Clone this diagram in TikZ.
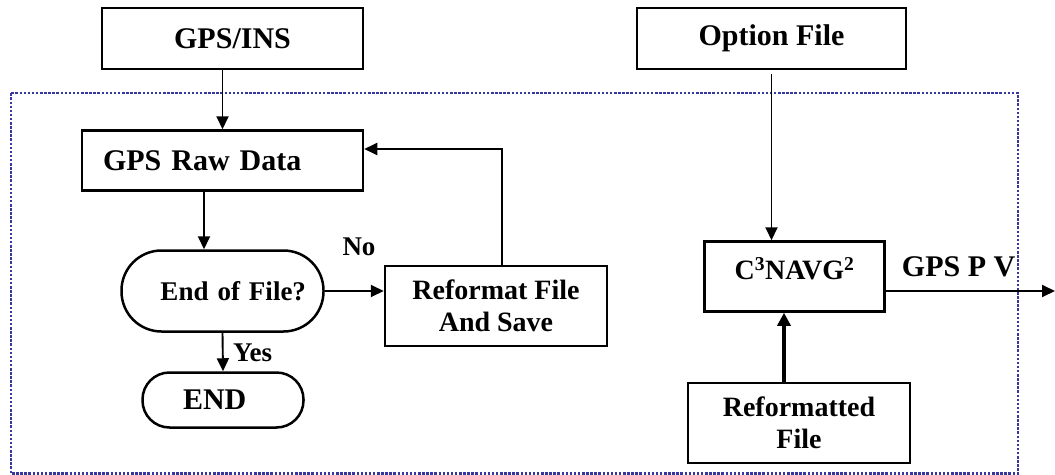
\documentclass[tikz,border=0pt]{standalone}
\usepackage{fontspec}
\setmainfont{Liberation Serif}
\usetikzlibrary{arrows.meta,calc}
\begin{document}
\begin{tikzpicture}[x=1pt,y=-1pt,
  box/.style={draw,line width=2.5pt,rectangle,inner sep=0pt,font=\bfseries},
  term/.style={box,rounded corners=#1},
  arr/.style={line width=1.9pt,-{Triangle[length=13pt,width=12pt]}},
  thickarr/.style={line width=3.2pt,-{Triangle[length=13pt,width=13pt]}},
  dotbox/.style={draw={rgb,255:red,55;green,55;blue,160},line width=2.2pt,dash pattern=on 2.5pt off 1.6pt},
  lbl/.style={inner sep=0pt,font=\bfseries}]
\useasboundingbox (0,0) rectangle (1055,474);
\draw[dotbox] (11,93.3) rectangle (1018,473.5);

\node[box,minimum width=261pt,minimum height=61pt,font=\bfseries\fontsize{30}{34}\selectfont] (gpsins) at (232.5,38.5) {GPS/INS};
\node[box,minimum width=281pt,minimum height=60pt,text width=239pt,align=left,font=\bfseries\fontsize{30}{34}\selectfont] (raw) at (222.5,160.5) {GPS Raw Data};
\node[term=40pt,minimum width=202pt,minimum height=81pt,text width=167pt,align=right,font=\bfseries\fontsize{27}{31}\selectfont] (eof) at (222.5,291) {End of File?};
\node[box,minimum width=222pt,minimum height=80pt,align=center,font=\bfseries\fontsize{28}{32}\selectfont] (ref) at (496,306) {Reformat File\\And Save};
\node[term=27pt,minimum width=161pt,minimum height=55pt,text width=80pt,align=left,font=\bfseries\fontsize{30}{34}\selectfont] (end) at (223,400) {END};
\node[box,minimum width=269pt,minimum height=61pt,font=\bfseries\fontsize{30}{34}\selectfont] (optf) at (771.5,38.5) {Option File};
\node[box,minimum width=180pt,minimum height=70pt,text depth=16pt,font=\bfseries\fontsize{28}{32}\selectfont] (nav) at (794.5,276.5) {C\textsuperscript{3}NAVG\textsuperscript{2}};
\node[box,minimum width=222pt,minimum height=80pt,align=center,font=\bfseries\fontsize{28}{32}\selectfont] (reff) at (799,423) {Reformatted\\File};

\node[lbl,font=\bfseries\fontsize{27}{31}\selectfont] (no) at (359,246.5) {No};
\node[lbl,anchor=west,font=\bfseries\fontsize{27}{31}\selectfont] (yes) at (233,353) {Yes};
\node[lbl,anchor=base west,font=\bfseries\fontsize{30}{34}\selectfont] (pv) at (901.7,276.7) {GPS P V};

\coordinate (outend) at (1055,291);
\coordinate (upx) at (784,0);

\draw[arr] (raw.north |- gpsins.south) -- (raw.north);
\draw[arr] ([xshift=-18.5pt]raw.south) -- ([xshift=-18.5pt]eof.north);
\draw[arr] (eof.east) -- (eof.east -| ref.west);
\draw[arr] ([xshift=6.3pt]ref.north) |- ([yshift=11.5pt]raw.east);
\draw[arr] (eof.south) -- (end.north);
\draw[arr] ([yshift=-4pt]optf.south) -- (optf.south |- nav.north);
\draw[arr] ([yshift=-14.5pt]nav.east) -- (outend);
\draw[thickarr] (reff.north -| upx) -- (nav.south -| upx);
\end{tikzpicture}
\end{document}
